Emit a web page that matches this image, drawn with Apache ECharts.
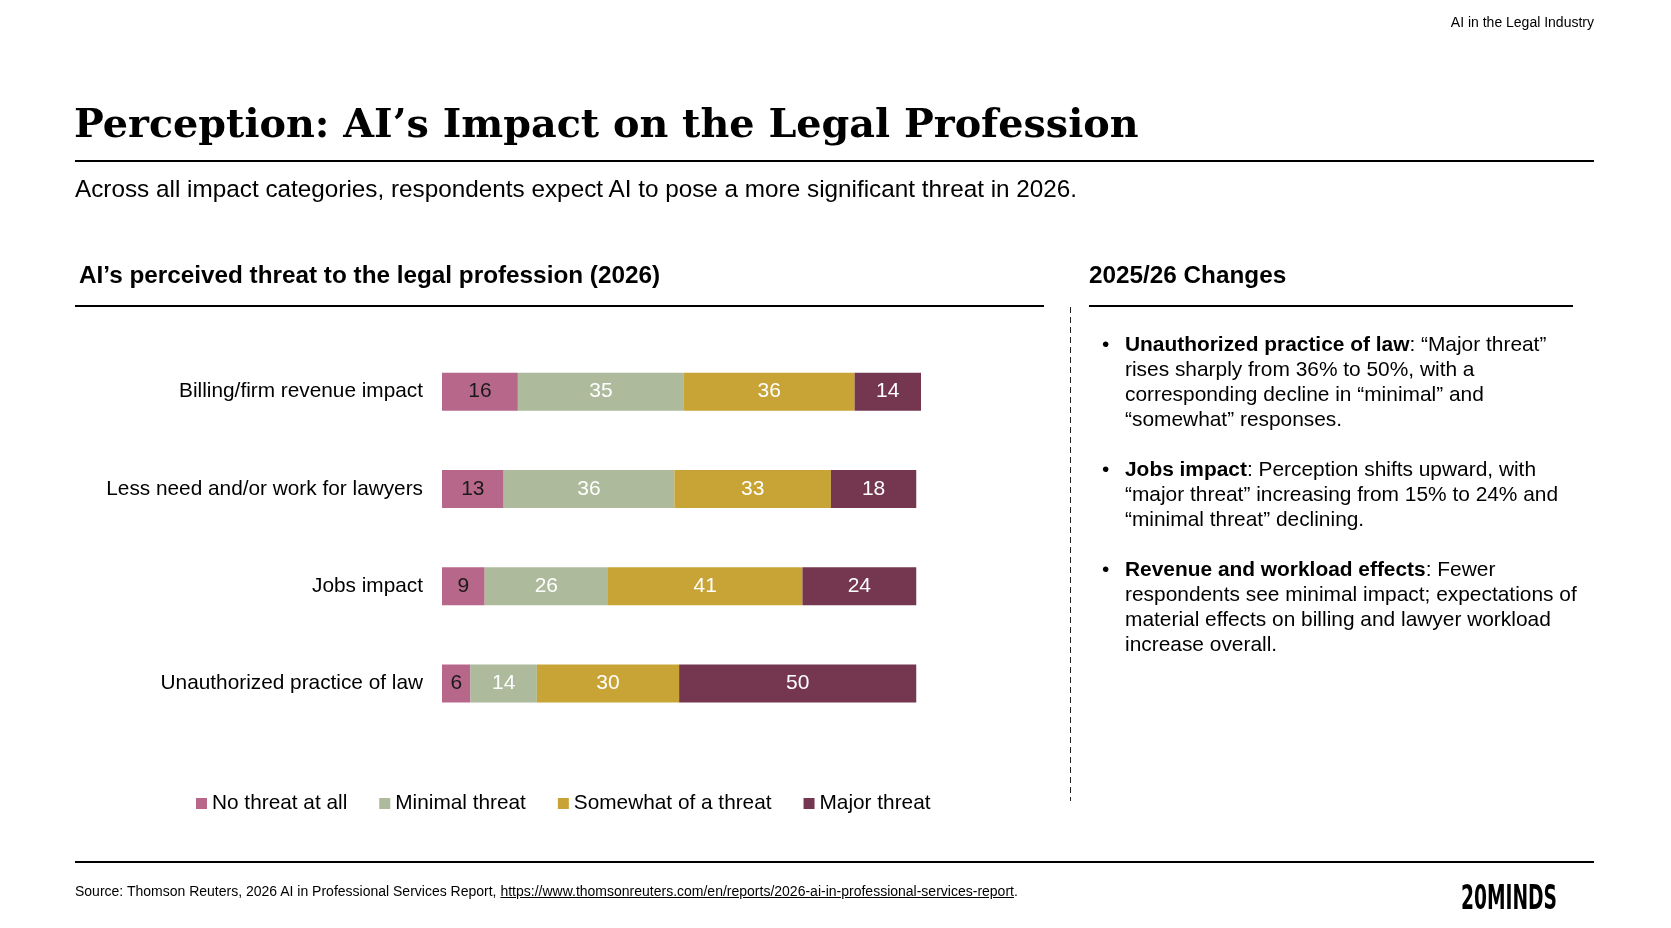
<!DOCTYPE html>
<html>
<head>
<meta charset="utf-8">
<script src="https://cdn.jsdelivr.net/npm/echarts@6/dist/echarts.min.js"></script>
<style>
    html, body { margin: 0; padding: 0; background: #fff; }
    body { width: 1671px; height: 928px; position: relative; overflow: hidden; font-family: "Liberation Sans", Arial, sans-serif; color: #000; }
    .abs { position: absolute; white-space: nowrap; }
    .rule { position: absolute; background: #000; }
    #chart { position: absolute; left: 0; top: 0; width: 1671px; height: 928px; }
    .topnote { right: 77px; top: 14px; font-size: 14px; line-height: 16px; }
    .title { left: 74px; top: 98px; font-family: "DejaVu Serif", "Liberation Serif", serif; font-weight: bold; font-size: 39.7px; line-height: 50px; }
    .subtitle { left: 75px; top: 174px; font-size: 24.3px; line-height: 30px; }
    .head { top: 260px; font-weight: bold; font-size: 24.3px; line-height: 30px; }
    .dash { position: absolute; left: 1070px; top: 307px; width: 1px; height: 494px; background: repeating-linear-gradient(to bottom, #222 0, #222 6px, transparent 6px, transparent 10px); }
    .bullets { left: 1102px; top: 331px; font-size: 20.9px; line-height: 25px; }
    .bullets .p { position: relative; padding-left: 23px; margin-bottom: 25px; }
    .bullets .p:before { content: "\2022"; position: absolute; left: 0; top: 0; }
    .source { left: 75px; top: 882px; font-size: 14px; line-height: 18px; }
    .source a { color: #000; text-decoration: underline; }
    .logo { left: 1461px; top: 879px; font-family: "DejaVu Sans Condensed", "DejaVu Sans", sans-serif; font-weight: bold; font-size: 34px; line-height: 36px; transform: scaleX(0.61); transform-origin: left center; }
</style>
</head>
<body>
<div id="chart"></div>

<div class="abs topnote">AI in the Legal Industry</div>
<div class="abs title">Perception: AI’s Impact on the Legal Profession</div>
<div class="rule" style="left:75px;top:160px;width:1519px;height:2px"></div>
<div class="abs subtitle">Across all impact categories, respondents expect AI to pose a more significant threat in 2026.</div>

<div class="abs head" style="left:79px">AI’s perceived threat to the legal profession (2026)</div>
<div class="rule" style="left:75px;top:305px;width:969px;height:2px"></div>
<div class="abs head" style="left:1089px">2025/26 Changes</div>
<div class="rule" style="left:1089px;top:305px;width:484px;height:2px"></div>
<div class="dash"></div>

<div class="abs bullets">
    <div class="p"><b>Unauthorized practice of law</b>: “Major threat”<br>rises sharply from 36% to 50%, with a<br>corresponding decline in “minimal” and<br>“somewhat” responses.</div>
    <div class="p"><b>Jobs impact</b>: Perception shifts upward, with<br>“major threat” increasing from 15% to 24% and<br>“minimal threat” declining.</div>
    <div class="p"><b>Revenue and workload effects</b>: Fewer<br>respondents see minimal impact; expectations of<br>material effects on billing and lawyer workload<br>increase overall.</div>
</div>

<div class="rule" style="left:75px;top:861px;width:1519px;height:2px"></div>
<div class="abs source">Source: Thomson Reuters, 2026 AI in Professional Services Report, <a>https://www.thomsonreuters.com/en/reports/2026-ai-in-professional-services-report</a>.</div>
<div class="abs logo">20MINDS</div>

<script>
// 各类别对应的占比（%），自上而下
var categories = ['Billing/firm revenue impact', 'Less need and/or work for lawyers', 'Jobs impact', 'Unauthorized practice of law'];
var seriesNames = ['No threat at all', 'Minimal threat', 'Somewhat of a threat', 'Major threat'];
var noThreat = [16, 13, 9, 6];
var minimalThreat = [35, 36, 26, 14];
var somewhatThreat = [36, 33, 41, 30];
var majorThreat = [14, 18, 24, 50];

var colors = ['#B7688A', '#ADBA9C', '#C8A437', '#74374F'];
var labelColors = ['#1a1a1a', '#ffffff', '#ffffff', '#ffffff'];
var font = '"Liberation Sans", Arial, sans-serif';

function load_threat_bar_chart() {
    var bar_chart = echarts.init(document.getElementById('chart'), null, { renderer: 'canvas' });
    var values = [noThreat, minimalThreat, somewhatThreat, majorThreat];
    var series = [];
    for (var i = 0; i < values.length; i++) {
        series.push({
            name: seriesNames[i],
            type: 'bar',
            stack: 'total',
            barWidth: 38,
            itemStyle: { color: colors[i] },
            label: {
                show: true,
                position: 'inside',
                color: labelColors[i],
                fontFamily: font,
                fontSize: 21
            },
            emphasis: { disabled: true },
            data: values[i]
        });
    }
    var bar_option = {
        animation: false,
        color: colors,
        grid: {
            left: 442,
            right: 750,
            top: 343,
            bottom: 196,
            containLabel: false
        },
        legend: {
            left: 196,
            top: 793,
            padding: 0,
            itemWidth: 11,
            itemHeight: 11,
            itemGap: 32,
            icon: 'rect',
            selectedMode: false,
            textStyle: { color: '#000', fontFamily: font, fontSize: 20.8 },
            data: seriesNames
        },
        xAxis: {
            type: 'value',
            min: 0,
            max: 101,
            show: false
        },
        yAxis: {
            type: 'category',
            inverse: true,
            data: categories,
            axisLine: { show: false },
            axisTick: { show: false },
            splitLine: { show: false },
            axisLabel: {
                margin: 19,
                color: '#000',
                fontFamily: font,
                fontSize: 20.8
            }
        },
        series: series
    };
    bar_chart.setOption(bar_option, true);
}
load_threat_bar_chart();
</script>
</body>
</html>
